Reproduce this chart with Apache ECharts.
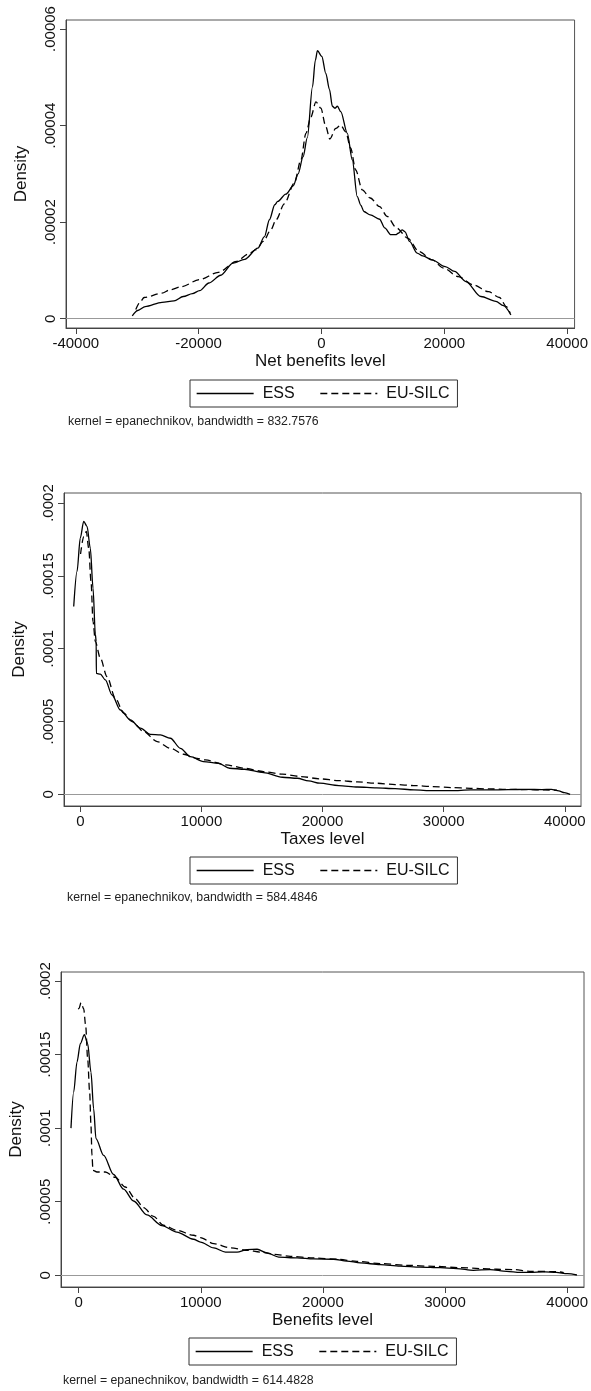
<!DOCTYPE html>
<html><head><meta charset="utf-8">
<script src="https://cdn.jsdelivr.net/npm/echarts@6/dist/echarts.min.js"></script>
<style>html,body{margin:0;padding:0;background:#fff}#c{width:591px;height:1391px}</style>
</head><body><div id="c"></div>
<script>
// ---------- data (x value, density) ----------
const netESS = [[-30800,0.6e-6],[-29900,1.7e-6],[-28700,2.5e-6],[-25960,3.4e-6],[-24000,3.7e-6],[-22500,4.6e-6],[-21000,5.2e-6],[-19840,5.8e-6],[-18320,7.4e-6],[-16400,9.0e-6],[-14400,11.5e-6],[-12500,12.3e-6],[-10360,14.6e-6],[-9280,17.0e-6],[-8470,20.5e-6],[-7600,23.6e-6],[-7120,24.3e-6],[-5800,25.8e-6],[-4600,27.5e-6],[-3800,30.0e-6],[-3000,33.5e-6],[-2300,37.5e-6],[-1460,48.0e-6],[-1000,53.5e-6],[-650,55.5e-6],[60,54.3e-6],[710,50.8e-6],[1300,47.5e-6],[1780,44.0e-6],[2200,43.6e-6],[2590,44.0e-6],[3140,42.9e-6],[4210,38.4e-6],[5020,32.9e-6],[5830,25.3e-6],[6410,23.5e-6],[6910,22.2e-6],[7940,21.5e-6],[9470,20.6e-6],[10300,18.8e-6],[11300,17.4e-6],[12100,17.4e-6],[12500,17.7e-6],[13130,18.4e-6],[13600,18.0e-6],[14340,16.0e-6],[15570,13.6e-6],[16500,13.0e-6],[18010,12.2e-6],[20150,10.8e-6],[21680,9.8e-6],[23510,7.7e-6],[25960,4.6e-6],[28400,3.6e-6],[29620,2.7e-6],[30840,0.8e-6]];
const netSILC = [[-30230,1.9e-6],[-29500,3.5e-6],[-28870,4.4e-6],[-25960,5.3e-6],[-24660,6.0e-6],[-22900,6.6e-6],[-19840,8.1e-6],[-16800,9.6e-6],[-13860,11.85e-6],[-11900,13.4e-6],[-10620,14.3e-6],[-9470,16.0e-6],[-8240,18.4e-6],[-7380,20.5e-6],[-6040,23.8e-6],[-4420,28.1e-6],[-3340,32.9e-6],[-2530,38.4e-6],[-1720,41.8e-6],[-900,44.9e-6],[-100,43.6e-6],[710,39.8e-6],[1360,37.2e-6],[2330,39.4e-6],[3140,40.1e-6],[3950,38.7e-6],[4760,35.3e-6],[5570,30.8e-6],[6640,26.7e-6],[7940,25.0e-6],[9470,23.2e-6],[10690,21.2e-6],[12210,18.8e-6],[14040,16.7e-6],[15880,13.9e-6],[18010,12.2e-6],[19840,10.5e-6],[22290,8.7e-6],[24730,7.0e-6],[27170,5.6e-6],[29000,4.4e-6],[30100,2.5e-6],[30720,1.2e-6]];

const taxESS = [[-545,129e-6],[-273,153e-6],[0,176e-6],[281,187.4e-6],[554,184e-6],[826,169e-6],[1050,141.6e-6],[1240,110e-6],[1310,105e-6],[1325,83e-6],[1653,82.5e-6],[2066,78.6e-6],[2620,68.2e-6],[3306,57.9e-6],[4132,51.1e-6],[4960,45.4e-6],[5785,41.2e-6],[6612,40.8e-6],[7438,38.5e-6],[8264,31.6e-6],[9090,25.8e-6],[10160,22.5e-6],[11400,21.3e-6],[12330,17.9e-6],[13570,17.2e-6],[15130,14.9e-6],[16680,11.7e-6],[17920,11.0e-6],[18850,9.2e-6],[19780,7.6e-6],[21340,6.0e-6],[22890,5.0e-6],[24450,4.4e-6],[26000,3.9e-6],[27550,3.0e-6],[29100,2.5e-6],[30660,2.5e-6],[32210,3.0e-6],[33760,3.0e-6],[35320,3.2e-6],[36870,3.4e-6],[38110,3.2e-6],[38890,3.4e-6],[39510,2.3e-6],[39970,1.1e-6],[40440,0]];
const taxSILC = [[20,165e-6],[281,177e-6],[496,180.5e-6],[694,169e-6],[884,146.1e-6],[1050,118.6e-6],[1240,104.9e-6],[1653,93.5e-6],[2204,80.8e-6],[2893,66.0e-6],[3582,55.7e-6],[4270,49.9e-6],[5240,43.0e-6],[6340,36.2e-6],[7438,31.6e-6],[8540,27.5e-6],[9640,24.7e-6],[10330,23.6e-6],[12020,20.2e-6],[13570,17.9e-6],[15130,15.6e-6],[16680,13.8e-6],[18230,12.2e-6],[19780,10.6e-6],[21340,9.4e-6],[22890,8.5e-6],[24450,7.6e-6],[26000,6.7e-6],[27550,6.0e-6],[29100,5.3e-6],[30660,4.6e-6],[32210,4.1e-6],[33760,3.7e-6],[35320,3.4e-6],[36870,3.2e-6],[38420,3.0e-6],[39350,2.8e-6]];

const benESS = [[-630,100e-6],[-409,124.5e-6],[-139,144.9e-6],[139,157.4e-6],[466,163.5e-6],[736,157.4e-6],[1006,138.1e-6],[1226,113.2e-6],[1415,92.9e-6],[2044,81.5e-6],[2862,68.5e-6],[3680,58.5e-6],[4497,50.5e-6],[5585,41.0e-6],[6811,33.8e-6],[8038,29.4e-6],[9403,24.5e-6],[9975,22.6e-6],[11065,18.6e-6],[12020,15.8e-6],[12975,15.8e-6],[13790,17.5e-6],[14610,17.7e-6],[15430,15.2e-6],[16380,12.4e-6],[17880,11.8e-6],[19240,11.1e-6],[20880,10.9e-6],[21970,9.7e-6],[23060,8.4e-6],[24690,7.3e-6],[26330,6.3e-6],[27960,5.6e-6],[29600,5.2e-6],[30960,4.6e-6],[32320,3.4e-6],[33690,3.9e-6],[35050,2.7e-6],[36140,2.0e-6],[36930,2.0e-6],[38170,2.3e-6],[39100,2.0e-6],[40030,1.1e-6],[40800,0.2e-6]];
const benSILC = [[-50,181e-6],[27,181.2e-6],[190,185.2e-6],[409,181.2e-6],[572,169.8e-6],[736,147.2e-6],[900,124.5e-6],[1006,101.9e-6],[1090,81.5e-6],[1170,71.3e-6],[1497,70.2e-6],[2180,70.2e-6],[3000,66.5e-6],[3820,60.0e-6],[4640,52.0e-6],[5315,46.0e-6],[6130,40.0e-6],[6950,34.0e-6],[8038,30.6e-6],[9403,27.2e-6],[9975,25.6e-6],[11065,21.5e-6],[12430,18.6e-6],[13790,17.0e-6],[14880,15.8e-6],[15970,14.3e-6],[17330,12.9e-6],[19240,11.8e-6],[21150,10.9e-6],[22790,9.5e-6],[24690,8.0e-6],[26870,6.8e-6],[29050,6.1e-6],[31230,5.2e-6],[32870,4.6e-6],[34230,4.1e-6],[35590,3.9e-6],[36930,2.7e-6],[39100,2.5e-6],[39720,1.8e-6]];

// ---------- tick labels ----------
const netXTicks = [-40000,-20000,0,20000,40000];
const netXLabels = ['-40000','-20000','0','20000','40000'];
const levelXTicks = [0,10000,20000,30000,40000];
const levelXLabels = ['0','10000','20000','30000','40000'];
const netYTicks = [0,0.00002,0.00004,0.00006];
const netYLabels = ['0','.00002','.00004','.00006'];
const levelYTicks = [0,0.00005,0.0001,0.00015,0.0002];
const levelYLabels = ['0','.00005','.0001','.00015','.0002'];

const xTitles = ['Net benefits level','Taxes level','Benefits level'];
const seriesNames = ['ESS','EU-SILC'];
const notes = ['kernel = epanechnikov, bandwidth = 832.7576','kernel = epanechnikov, bandwidth = 584.4846','kernel = epanechnikov, bandwidth = 614.4828'];

// ---------- layout ----------
const FONT = 'Liberation Sans, Arial, sans-serif';
const grids = [
  {left:66, top:20, width:511, height:308},
  {left:64, top:493, width:517, height:313},
  {left:60, top:972, width:524, height:315}
];
const xRanges = [[-41590,41210],[-1347,41340],[-1447,41380]];
const yRanges = [[-1.92e-6,61.86e-6],[-8.04e-6,206.9e-6],[-7.95e-6,206.1e-6]];
const legendPos = [{left:190,top:380},{left:190,top:857},{left:189,top:1338}];
const notePos = [[68,423],[67,899],[63,1382]];

function lookup(ticks, labels){
  return function(v){
    for (let i=0;i<ticks.length;i++) if (Math.abs(ticks[i]-v) < 1e-12*Math.max(1,Math.abs(v))+1e-12) return labels[i];
    return '';
  };
}

const xT = [[netXTicks,netXLabels],[levelXTicks,levelXLabels],[levelXTicks,levelXLabels]];
const yT = [[netYTicks,netYLabels],[levelYTicks,levelYLabels],[levelYTicks,levelYLabels]];
const dataSets = [[netESS,netSILC],[taxESS,taxSILC],[benESS,benSILC]];

const option = {
  backgroundColor:'#fff',
  animation:false,
  textStyle:{fontFamily:FONT},
  grid: grids.map(g => Object.assign({show:true, borderColor:'#555', borderWidth:1, backgroundColor:'#fff', containLabel:false}, g)),
  xAxis: grids.map((g,i) => ({
    type:'value', gridIndex:i, min:xRanges[i][0], max:xRanges[i][1],
    name:xTitles[i], nameLocation:'middle', nameGap:25,
    nameTextStyle:{fontSize:17, color:'#111', fontFamily:FONT},
    axisLine:{show:true, onZero:false, lineStyle:{color:'#444', width:1}},
    axisTick:{show:true, length:6, lineStyle:{color:'#444'}, customValues:xT[i][0]},
    axisLabel:{show:true, margin:8, fontSize:15, color:'#111', fontFamily:FONT, customValues:xT[i][0], formatter:lookup(xT[i][0], xT[i][1])},
    splitLine:{show:false}
  })),
  yAxis: grids.map((g,i) => ({
    type:'value', gridIndex:i, min:yRanges[i][0], max:yRanges[i][1],
    name:'Density', nameLocation:'middle', nameGap:36,
    nameTextStyle:{fontSize:17, color:'#111', fontFamily:FONT},
    axisLine:{show:true, onZero:false, lineStyle:{color:'#444', width:1}},
    axisTick:{show:true, length:6, lineStyle:{color:'#444'}, customValues:yT[i][0]},
    axisLabel:{show:true, margin:8, rotate:90, fontSize:15, color:'#111', fontFamily:FONT, customValues:yT[i][0], formatter:lookup(yT[i][0], yT[i][1])},
    splitLine:{show:false}
  })),
  legend: legendPos.map(p => ({
    left:p.left, top:p.top, orient:'horizontal', data:seriesNames,
    itemWidth:57, itemHeight:4, itemGap:25,
    padding:[5.5,8,5.5,6], borderColor:'#333', borderWidth:1,
    selectedMode:false,
    itemStyle:{opacity:0, color:'rgba(0,0,0,0)', borderWidth:0},
    lineStyle:{width:1.3},
    textStyle:{fontSize:16, color:'#111', fontFamily:FONT, padding:[0,0,0,4]}
  })),
  graphic: notePos.map((p,i) => ({
    type:'text', left:p[0], top:p[1]-7, silent:true,
    style:{text:notes[i], fontSize:12.3, fontFamily:FONT, fill:'#222'}
  })),
  series: []
};

dataSets.forEach((pair,i) => {
  pair.forEach((d,j) => {
    const s = {
      type:'line', name:seriesNames[j], xAxisIndex:i, yAxisIndex:i, data:d,
      symbol:'none', showSymbol:false, smooth:0.3, smoothMonotone:'x',
      color:'#000',
      lineStyle:{color:'#000', width:1.3, type: j===0 ? 'solid' : [7,4]},
      z: 3
    };
    if (j===0) {
      s.markLine = {silent:true, symbol:'none', label:{show:false}, z:1,
        lineStyle:{color:'#999', type:'solid', width:1}, data:[{yAxis:0}]};
    }
    option.series.push(s);
  });
});

const chart = echarts.init(document.getElementById('c'), null, {renderer:'canvas'});
chart.setOption(option);
</script></body></html>
